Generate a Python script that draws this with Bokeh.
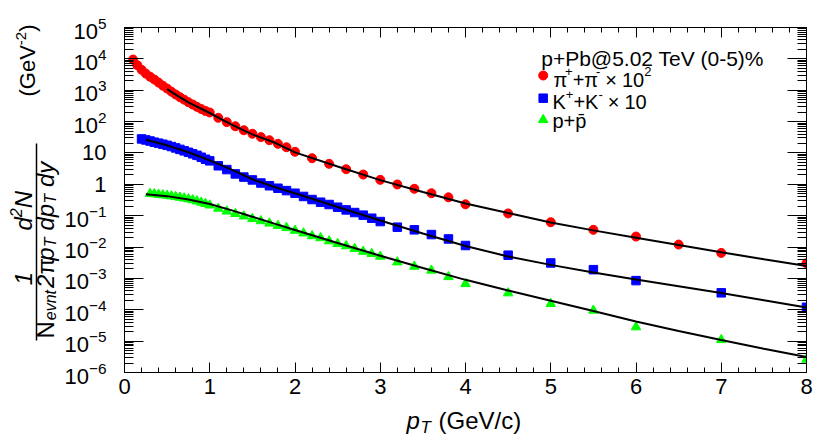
import math
from bokeh.plotting import figure
from bokeh.layouts import row, column
from bokeh.models import (Range1d, LinearAxis, LogAxis, FixedTicker, SingleIntervalTicker,
                          LogTickFormatter, CustomJSTickFormatter, Label, Arrow)
from bokeh.embed import file_html
from bokeh.resources import INLINE

# ---------------- data ----------------
pi_pt = [0.10, 0.15, 0.20, 0.25, 0.30, 0.35, 0.40, 0.45, 0.50, 0.55, 0.60, 0.65, 0.70, 0.75,
         0.80, 0.85, 0.90, 0.95, 1.00, 1.1, 1.2, 1.3, 1.4, 1.5, 1.6, 1.7, 1.8, 1.9, 2.0,
         2.2, 2.4, 2.6, 2.8, 3.0, 3.2, 3.4, 3.6, 3.8, 4.0, 4.5, 5.0, 5.5, 6.0, 6.5, 7.0, 8.0]
pi_val = [9500, 6300, 4500, 3400, 2700, 2200, 1750, 1400, 1130, 900, 730, 600, 500, 415,
          350, 295, 252, 218, 195, 132, 96, 71, 53, 41, 32, 25.5, 19.5, 15.2, 10.9,
          6.8, 4.5, 3.03, 2.05, 1.39, 0.99, 0.72, 0.52, 0.385, 0.23, 0.118, 0.062, 0.0354,
          0.0216, 0.012, 0.0065, 0.00305]

k_pt = [0.20, 0.25, 0.30, 0.35, 0.40, 0.45, 0.50, 0.55, 0.60, 0.65, 0.70, 0.75, 0.80, 0.85,
        0.90, 0.95, 1.00, 1.1, 1.2, 1.3, 1.4, 1.5, 1.6, 1.7, 1.8, 1.9, 2.0, 2.1, 2.2, 2.3,
        2.4, 2.5, 2.6, 2.7, 2.8, 2.9, 3.0, 3.2, 3.4, 3.6, 3.8, 4.0, 4.5, 5.0, 5.5, 6.0, 7.0, 8.0]
k_val = [28, 26, 24, 22, 20.5, 19, 17.5, 16, 14.5, 13, 11.7, 10.5, 9.4, 8.4,
         7.3, 6.3, 5.6, 3.9, 2.95, 2.15, 1.7, 1.38, 1.1, 0.9, 0.75, 0.63, 0.52, 0.41, 0.327, 0.269,
         0.227, 0.186, 0.153, 0.126, 0.104, 0.083, 0.065, 0.043, 0.0354, 0.025, 0.0181, 0.0112,
         0.0055, 0.0031, 0.0019, 0.00085, 0.000347, 0.00012]

p_pt = [0.30, 0.35, 0.40, 0.45, 0.50, 0.55, 0.60, 0.65, 0.70, 0.75, 0.80, 0.85, 0.90, 0.95,
        1.00, 1.1, 1.2, 1.3, 1.4, 1.5, 1.6, 1.7, 1.8, 1.9, 2.0, 2.1, 2.2, 2.3, 2.4, 2.5, 2.6,
        2.7, 2.8, 2.9, 3.0, 3.2, 3.4, 3.6, 3.8, 4.0, 4.5, 5.0, 5.5, 6.0, 7.0, 8.0]
p_val = [0.50, 0.49, 0.47, 0.455, 0.44, 0.42, 0.40, 0.38, 0.36, 0.34, 0.315, 0.29, 0.265, 0.24,
         0.215, 0.17, 0.138, 0.115, 0.096, 0.08, 0.068, 0.057, 0.048, 0.041, 0.0336, 0.0276,
         0.0225, 0.0195, 0.0155, 0.0127, 0.0108, 0.0088, 0.0072, 0.0061, 0.0050, 0.0033, 0.0024,
         0.0018, 0.00112, 0.00067, 0.00034, 0.000155, 0.000095, 0.000028, 0.000011, 0.0000026]

# fit curves
pi_fit_pt = [0.5, 0.6, 0.75, 1.0, 1.25, 1.5, 1.75, 2.0, 2.5, 3.0, 3.5, 4.0, 4.5, 5.0, 5.5,
             6.0, 6.5, 7.0, 7.5, 8.0]
pi_fit_val = [1080, 720, 410, 188, 82, 39, 22, 10.4, 3.7, 1.36, 0.57, 0.245, 0.121, 0.061,
              0.034, 0.0199, 0.0116, 0.0068, 0.0041, 0.0025]

k_fit_pt = [0.25, 0.5, 0.75, 1.0, 1.25, 1.5, 1.75, 2.0, 2.5, 3.0, 3.5, 4.0, 4.5, 5.0, 5.5,
            6.0, 6.5, 7.0, 7.5, 8.0]
k_fit_val = [26.5, 17.5, 10.5, 5.8, 3.0, 1.45, 0.84, 0.52, 0.19, 0.07, 0.027, 0.0108, 0.0050,
             0.0027, 0.00155, 0.00093, 0.00056, 0.00034, 0.0002, 0.000118]

p_fit_pt = [0.25, 0.5, 0.75, 1.0, 1.25, 1.5, 1.75, 2.0, 2.5, 3.0, 3.5, 4.0, 4.5, 5.0, 5.5,
            6.0, 6.5, 7.0, 7.5, 8.0]
p_fit_val = [0.48, 0.42, 0.33, 0.235, 0.15, 0.093, 0.057, 0.035, 0.0135, 0.0053, 0.00215,
             0.00090, 0.00041, 0.000195, 0.000092, 0.0000425, 0.000021, 0.0000108,
             0.0000057, 0.0000031]

y_major_exp = list(range(-6, 6))
x_range_max = 8

# ---------------- layout constants (canvas pixels) ----------------
FONT = "Liberation Sans"
TOTAL_W, TOTAL_H = 830, 438
YT_W = 61                      # width of the strip holding the y title
FL, FT, FW, FH = 124, 27, 682, 345   # frame left, top, width, height
FB = FT + FH                   # frame bottom
P_BOTTOM = 31
P_H = FT + FH + P_BOTTOM
XT_H = TOTAL_H - P_H
P_LEFT = FL - YT_W
P_RIGHT = TOTAL_W - FL - FW

p = figure(frame_width=FW, frame_height=FH, x_range=Range1d(0, x_range_max),
           y_range=Range1d(1e-6, 1e5), y_axis_type="log", output_backend="svg",
           toolbar_location=None, min_border_left=P_LEFT, min_border_right=P_RIGHT,
           min_border_top=FT, min_border_bottom=P_BOTTOM, background_fill_color="white",
           border_fill_color="white")
p.title = None
p.xgrid.visible = False
p.ygrid.visible = False
p.outline_line_color = "black"
p.outline_line_width = 1

yt_major = [10.0 ** e for e in y_major_exp]
yt_minor = [m * 10.0 ** e for e in y_major_exp[:-1] for m in range(2, 10)]
yticker = FixedTicker(ticks=yt_major, minor_ticks=yt_minor)
xticker = SingleIntervalTicker(interval=1, num_minor_ticks=5)


def style_axis(ax, maj, mnr):
    ax.major_tick_in = maj
    ax.major_tick_out = 0
    ax.minor_tick_in = mnr
    ax.minor_tick_out = 0
    ax.axis_line_color = "black"
    ax.major_tick_line_color = "black"
    ax.minor_tick_line_color = "black"
    ax.axis_line_width = 1
    ax.major_label_text_font = FONT
    ax.major_label_text_font_size = "22px"
    ax.major_label_text_color = "black"


xa = p.xaxis[0]
xa.ticker = xticker
style_axis(xa, 10, 5)
xa.major_label_standoff = 6

ya = p.yaxis[0]
ya.ticker = yticker
ya.formatter = LogTickFormatter()
ya.major_label_overrides = {1: "1", 10: "10"}
style_axis(ya, 19, 9)
ya.major_label_standoff = 18

blank = "return ''"
top = LinearAxis(ticker=xticker, formatter=CustomJSTickFormatter(code=blank))
style_axis(top, 10, 5)
p.add_layout(top, "above")
right = LogAxis(ticker=yticker, formatter=CustomJSTickFormatter(code=blank))
style_axis(right, 19, 9)
p.add_layout(right, "right")

# ---------------- data marks ----------------
p.scatter(pi_pt, pi_val, marker="circle", size=9, color="#ff0000")
p.scatter(k_pt, k_val, marker="square", size=8.5, color="#0000ff")
p.scatter(p_pt, p_val, marker="triangle", size=9.5, color="#00ff00")
for fx, fy in ((pi_fit_pt, pi_fit_val), (k_fit_pt, k_fit_val), (p_fit_pt, p_fit_val)):
    p.line(fx, fy, line_color="black", line_width=2)

# ---------------- text helpers ----------------
XPX = FW / 8
YPX = FH / 11


def dx(px):
    return (px - FL) / XPX


def dy(py):
    return 10 ** (5 - (py - FT) / YPX)


WID = {" ": .278, "(": .333, ")": .333, "+": .584, "-": .333, ".": .278, "/": .278, "%": .889,
       "@": 1.015, "G": .778, "K": .667, "N": .722, "P": .667, "T": .611, "V": .667, "b": .556,
       "c": .5, "d": .556, "e": .556, "n": .556, "p": .556, "t": .278, "v": .5, "y": .5,
       "\u00d7": .584, "\u03c0": .58, "\u0304": 0.0}


def tw(s, size):
    return sum(WID.get(c, .556) for c in s) * size


def make_put(fig, left, bottom):
    """Place labels by canvas pixel position (screen units relative to a frame)."""
    def put(text, px, py, size, italic=False, angle=0.0):
        rotated = angle != 0.0
        # rotated texts are anchored at their middle line (0.35 em left of the baseline)
        ax = px - 0.35 * size if rotated else px
        fig.add_layout(Label(x=ax - left, y=bottom - py, x_units="screen", y_units="screen",
                             text=text, text_font=FONT, text_font_size=f"{size}px",
                             text_font_style="italic" if italic else "normal",
                             angle=angle, text_align="left",
                             text_baseline="middle" if rotated else "alphabetic",
                             text_color="black"))
    return put


def run(put, pieces, px, py, rotated=False):
    for text, size, italic, shift, gap in pieces:
        if rotated:
            put(text, px - shift, py, size, italic, angle=math.pi / 2)
            py -= tw(text, size) + gap
        else:
            put(text, px, py - shift, size, italic)
            px += tw(text, size) + gap


# legend (inside the frame)
put_p = make_put(p, FL, FB)
run(put_p, [("p+Pb@5.02 TeV (0-5)%", 21, False, 0, 0)], 540.7, 58.3)
run(put_p, [("\u03c0", 20, False, 0, 0), ("+", 13, False, 8, 0), ("+", 20, False, 0, 0),
            ("\u03c0", 20, False, 0, 0), ("-", 13, False, 8, 5), ("\u00d7", 20, False, 0, 5),
            ("10", 20, False, 0, 0), ("2", 13, False, 8, 0)], 553, 79.3)
run(put_p, [("K", 20, False, 0, 0), ("+", 13, False, 8, 0), ("+", 20, False, 0, 0),
            ("K", 20, False, 0, 0), ("-", 13, False, 8, 5), ("\u00d7", 20, False, 0, 5),
            ("10", 20, False, 0, 0)], 552, 101.7)
run(put_p, [("p+p\u0304", 20, False, 0, 0)], 552, 120)
p.scatter([dx(542.7)], [dy(75)], marker="circle", size=9, color="#ff0000")
p.scatter([dx(542.7)], [dy(97.7)], marker="square", size=8.5, color="#0000ff")
p.scatter([dx(542.7)], [dy(119.3)], marker="triangle", size=9.5, color="#00ff00")


def strip(w, h):
    f = figure(width=w, height=h, x_range=Range1d(0, w), y_range=Range1d(0, h),
               x_axis_location=None, y_axis_location=None, output_backend="svg",
               toolbar_location=None, min_border=0, min_border_left=0, min_border_right=0,
               min_border_top=0, min_border_bottom=0, background_fill_color="white",
               border_fill_color="white")
    f.title = None
    f.outline_line_color = None
    f.grid.visible = False
    return f


# x title strip: its frame is aligned with the main frame (left edge FL)
xfig = strip(TOTAL_W - YT_W, XT_H)
put_x = make_put(xfig, FL, TOTAL_H)
put_x("p", 406, 420, 24, italic=True)
put_x("T", 420, 427, 17, italic=True)
put_x("(GeV/c)", 438, 420, 24)

# y title strip (rotated): canvas x from 0, canvas y from 0
yfig = strip(YT_W, TOTAL_H)
put_y = make_put(yfig, 0, TOTAL_H)
run(put_y, [("N", 24, False, 0, 1), ("evnt", 16, True, -3, 2), ("2", 24, True, 0, 0),
            ("\u03c0", 24, False, 0, 0), ("p", 24, True, 0, 0), ("T", 16, True, -3, 7),
            ("dp", 24, True, 0, 0), ("T", 16, True, -3, 7), ("dy", 24, True, 0, 0)],
    53, 338, rotated=True)
put_y("1", 31, 278 + tw("1", 24) / 2, 24, italic=True, angle=math.pi / 2)
run(put_y, [("d", 24, True, 0, 0), ("2", 16, True, 10, 0), ("N", 24, True, 0, 0)],
    31, 230, rotated=True)
yfig.add_layout(Arrow(end=None, x_start=36, y_start=TOTAL_H - 340, x_end=36,
                      y_end=TOTAL_H - 143, start_units="screen", end_units="screen",
                      line_width=1.5, line_color="black"))
run(put_y, [("(GeV", 22, False, 0, 0), ("-2", 15, False, 9, 0), (")", 22, False, 0, 0)],
    35, 96, rotated=True)

layout = row(yfig, column(p, xfig, spacing=0), spacing=0)
open("out.html", "w").write(file_html(layout, INLINE))
